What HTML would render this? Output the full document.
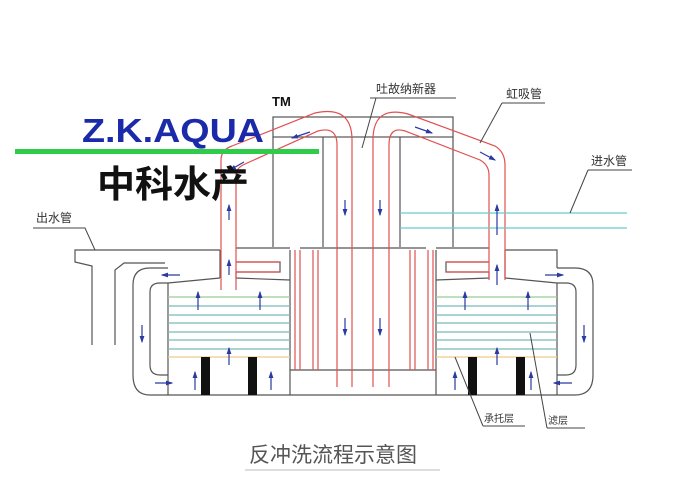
<!DOCTYPE html>
<html><head><meta charset="utf-8"><style>
html,body{margin:0;padding:0;background:#fff;}
svg{display:block;}
text{font-family:"Liberation Sans","Noto Sans CJK SC",sans-serif;}
</style></head><body>
<svg width="692" height="485" viewBox="0 0 692 485" xmlns="http://www.w3.org/2000/svg">
<defs>
<marker id="ah" markerWidth="6" markerHeight="6" refX="5" refY="3" orient="auto"><path d="M0,1 L6,3 L0,5 Z" fill="#2a3aa0"/></marker>
</defs>
<g fill="none" stroke="#555" stroke-width="1.2">
<!-- top box -->
<rect x="273" y="117" width="180" height="20"/>
<line x1="273" y1="137" x2="273" y2="247"/>
<line x1="323" y1="137" x2="323" y2="247"/>
<line x1="400" y1="137" x2="400" y2="247"/>
<line x1="453" y1="137" x2="453" y2="247"/>
<!-- outlet pipe -->
<path d="M168,250 H75 V262 L92,266 V345"/>
<path d="M115,345 V270 L124,263 H165"/>
<!-- left shell -->
<path d="M168,268 H150 Q133,268 133,285 V375 Q133,395 150,395 H168"/>
<path d="M168,283 H160 Q150,283 150,292 V365 Q150,375 160,375 H168"/>
<line x1="168" y1="283" x2="168" y2="395"/>
<line x1="168" y1="283" x2="220" y2="278"/>
<line x1="168" y1="250" x2="220" y2="250"/>
<!-- right shell -->
<path d="M557,268 H575 Q593,268 593,285 V375 Q593,395 575,395 H557"/>
<path d="M557,283 H566 Q576,283 576,292 V365 Q576,375 566,375 H557"/>
<line x1="557" y1="283" x2="557" y2="395"/>
<line x1="557" y1="283" x2="505" y2="278"/>
<path d="M505,250 H557 V268"/>
<!-- bottom -->
<line x1="168" y1="395" x2="557" y2="395"/>
<line x1="290" y1="250" x2="290" y2="395"/>
<line x1="436" y1="250" x2="436" y2="395"/>
<line x1="290" y1="370" x2="436" y2="370"/>
<line x1="300" y1="248" x2="426" y2="248"/>
<!-- ledges -->
<path d="M236,248 H290"/><path d="M436,248 H489"/>
<path d="M236,262 H280 V272 H236"/>
<path d="M489,262 H446 V272 H489"/>
<path d="M220,278 V250"/><path d="M505,278 V250"/>
<path d="M236,272 V278 L290,280"/><path d="M489,272 V278 L436,280"/>
</g>
<!-- filter layers -->
<g stroke-width="1.2">
<line x1="168" y1="297" x2="290" y2="297" stroke="#9c9"/>
<line x1="436" y1="297" x2="557" y2="297" stroke="#9c9"/>
<g stroke="#7bb">
<line x1="168" y1="306" x2="290" y2="306"/><line x1="436" y1="306" x2="557" y2="306"/>
<line x1="168" y1="315" x2="290" y2="315"/><line x1="436" y1="315" x2="557" y2="315"/>
<line x1="168" y1="323" x2="290" y2="323"/><line x1="436" y1="323" x2="557" y2="323"/>
<line x1="168" y1="332" x2="290" y2="332"/><line x1="436" y1="332" x2="557" y2="332"/>
<line x1="168" y1="340" x2="290" y2="340"/><line x1="436" y1="340" x2="557" y2="340"/>
<line x1="168" y1="349" x2="290" y2="349"/><line x1="436" y1="349" x2="557" y2="349"/>
</g>
<line x1="168" y1="357" x2="290" y2="357" stroke="#ec8"/>
<line x1="436" y1="357" x2="557" y2="357" stroke="#ec8"/>
</g>
<g fill="#111">
<rect x="201" y="357" width="9" height="38"/><rect x="248" y="357" width="9" height="38"/>
<rect x="468" y="357" width="9" height="38"/><rect x="516" y="357" width="9" height="38"/>
</g>
<!-- red pipes -->
<g fill="none" stroke="#e05050" stroke-width="1.2">
<path d="M221,290 V160 Q221,150 232,146 L315,113 Q352,105 352,140 V387"/>
<path d="M236,290 V175 Q236,168 245,164 L318,131 Q337,126 337,145 V387"/>
<path d="M373,387 V140 Q373,105 408,114 L495,146 Q505,152 505,165 V280"/>
<path d="M389,387 V145 Q389,126 405,131 L480,160 Q489,165 489,175 V280"/>
<line x1="236" y1="262" x2="280" y2="262"/><line x1="236" y1="272" x2="280" y2="272"/>
<line x1="446" y1="262" x2="489" y2="262"/><line x1="446" y1="272" x2="489" y2="272"/>
<line x1="295" y1="250" x2="295" y2="370"/><line x1="300" y1="250" x2="300" y2="370"/>
<line x1="313" y1="250" x2="313" y2="370"/><line x1="318" y1="250" x2="318" y2="370"/>
<line x1="410" y1="250" x2="410" y2="370"/><line x1="415" y1="250" x2="415" y2="370"/>
<line x1="428" y1="250" x2="428" y2="370"/><line x1="433" y1="250" x2="433" y2="370"/>
</g>
<!-- inlet pipe -->
<g stroke="#6cc" stroke-width="1.3">
<line x1="400" y1="213" x2="627" y2="213"/><line x1="400" y1="228" x2="627" y2="228"/>
</g>
<!-- arrows -->
<g stroke="#2a3aa0" stroke-width="1.2" marker-end="url(#ah)">
<line x1="229" y1="220" x2="229" y2="205"/><line x1="229" y1="275" x2="229" y2="260"/>
<line x1="497" y1="235" x2="497" y2="205"/><line x1="497" y1="285" x2="497" y2="265"/>
<line x1="345" y1="200" x2="345" y2="215"/><line x1="380" y1="200" x2="380" y2="215"/>
<line x1="345" y1="318" x2="345" y2="335"/><line x1="380" y1="318" x2="380" y2="335"/>
<line x1="310" y1="132" x2="292" y2="138"/><line x1="244" y1="162" x2="230" y2="170"/>
<line x1="415" y1="127" x2="432" y2="133"/><line x1="480" y1="152" x2="495" y2="160"/>
<line x1="180" y1="275" x2="162" y2="275"/><line x1="142" y1="325" x2="142" y2="342"/><line x1="155" y1="383" x2="172" y2="383"/>
<line x1="545" y1="275" x2="563" y2="275"/><line x1="584" y1="325" x2="584" y2="342"/><line x1="572" y1="383" x2="554" y2="383"/>
<line x1="198" y1="310" x2="198" y2="292"/><line x1="260" y1="310" x2="260" y2="292"/>
<line x1="229" y1="365" x2="229" y2="348"/><line x1="195" y1="390" x2="195" y2="372"/><line x1="271" y1="390" x2="271" y2="372"/>
<line x1="465" y1="310" x2="465" y2="292"/><line x1="528" y1="310" x2="528" y2="292"/>
<line x1="497" y1="365" x2="497" y2="348"/><line x1="455" y1="390" x2="455" y2="372"/><line x1="531" y1="390" x2="531" y2="372"/>
</g>
<!-- leaders -->
<g stroke="#444" fill="none" stroke-width="1">
<path d="M370,98 H456"/><path d="M376,98 L362,148"/>
<path d="M502,103 H545"/><path d="M502,103 L480,143"/>
<path d="M588,170 H632"/><path d="M588,170 L570,213"/>
<path d="M33,228 H85 L95,250"/>
<path d="M483,426 H525"/><path d="M483,426 L455,357"/>
<path d="M547,428 H585"/><path d="M547,428 L530,333"/>
<path d="M245,470 H440" stroke="#bbb"/>
</g>
<g fill="#333" font-size="12">
<text x="376" y="93">吐故纳新器</text>
<text x="506" y="98">虹吸管</text>
<text x="591" y="165">进水管</text>
<text x="36" y="222">出水管</text>
<text x="484" y="422" font-size="10">承托层</text>
<text x="548" y="424" font-size="10">滤层</text>
<text x="249" y="462" font-size="21" fill="#555">反冲洗流程示意图</text>
</g>
<!-- logo -->
<text x="82" y="142" font-size="33" font-weight="bold" fill="#1a2aa8" textLength="182" lengthAdjust="spacingAndGlyphs">Z.K.AQUA</text>
<text x="272" y="106" font-size="13" font-weight="bold" fill="#111">TM</text>
<rect x="15" y="149" width="304" height="5" fill="#2ecc4a"/>
<text x="97" y="197" font-size="37" font-weight="bold" fill="#111" textLength="152" lengthAdjust="spacingAndGlyphs">中科水产</text>
</svg>
</body></html>
